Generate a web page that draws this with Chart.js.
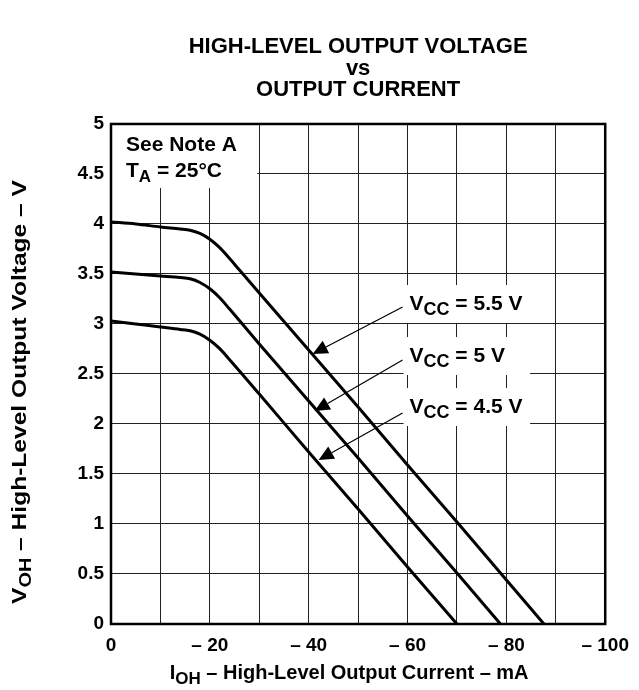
<!DOCTYPE html>
<html>
<head>
<meta charset="utf-8">
<script src="https://cdn.jsdelivr.net/npm/chart.js@4.4.1/dist/chart.umd.min.js"></script>
<style>
  html, body { margin: 0; padding: 0; background: #fff; }
  #wrap { width: 639px; height: 690px; }
</style>
</head>
<body>
<div id="wrap"><canvas id="vohChart" width="639" height="690"></canvas></div>
<script>
// I_OH in mA (sourcing, so negative) and V_OH in volts, one pair per supply
var ioh55 = [0, -5, -10, -14, -16, -18, -20, -22, -24, -26, -30, -40, -50, -60, -70, -80, -87.6];
var voh55 = [4.02, 4.00, 3.97, 3.95, 3.938, 3.906, 3.848, 3.763, 3.654, 3.539, 3.31, 2.74, 2.17, 1.59, 1.02, 0.44, 0];

var ioh50 = [0, -5, -10, -14, -16, -18, -20, -22, -24, -30, -40, -50, -60, -70, -78.8];
var voh50 = [3.52, 3.50, 3.48, 3.464, 3.452, 3.415, 3.352, 3.262, 3.149, 2.80, 2.23, 1.66, 1.08, 0.51, 0];

var ioh45 = [0, -5, -10, -14, -16, -18, -20, -22, -24, -30, -40, -50, -60, -70];
var voh45 = [3.03, 3.00, 2.97, 2.946, 2.932, 2.898, 2.838, 2.753, 2.643, 2.30, 1.72, 1.15, 0.57, 0];

var vccLabels = ['5.5 V', '5 V', '4.5 V'];
var xTickLabels = ['0', '', '\u2013 20', '', '\u2013 40', '', '\u2013 60', '', '\u2013 80', '', '\u2013 100'];
var yTickLabels = ['0', '0.5', '1', '1.5', '2', '2.5', '3', '3.5', '4', '4.5', '5'];
var titleLines = ['HIGH-LEVEL OUTPUT VOLTAGE', 'vs', 'OUTPUT CURRENT'];

var FONT = '"Liberation Sans", Arial, Helvetica, sans-serif';

function pts(xs, ys) {
    return xs.map(function(x, i){ return {x: x, y: ys[i]}; });
}

// text with subscripts: parts = [[text, size, dy], ...]
function drawRich(ctx, parts, x, y, align) {
    var w = 0;
    parts.forEach(function(p){
        ctx.font = 'bold ' + p[1] + 'px ' + FONT;
        w += ctx.measureText(p[0]).width;
    });
    var cx = align === 'center' ? x - w / 2 : x;
    parts.forEach(function(p){
        ctx.font = 'bold ' + p[1] + 'px ' + FONT;
        ctx.fillText(p[0], cx, y + (p[2] || 0));
        cx += ctx.measureText(p[0]).width;
    });
}

function arrow(ctx, x1, y1, x2, y2) {
    var ang = Math.atan2(y2 - y1, x2 - x1), len = 15, hw = 7;
    var bx = x2 - len * Math.cos(ang), by = y2 - len * Math.sin(ang);
    ctx.lineWidth = 1.2;
    ctx.beginPath();
    ctx.moveTo(x1, y1);
    ctx.lineTo(bx, by);
    ctx.stroke();
    ctx.beginPath();
    ctx.moveTo(x2, y2);
    ctx.lineTo(bx + hw * Math.sin(ang), by - hw * Math.cos(ang));
    ctx.lineTo(bx - hw * Math.sin(ang), by + hw * Math.cos(ang));
    ctx.closePath();
    ctx.fill();
}

var extras = {
    id: 'extras',
    afterDatasetsDraw: function(chart) {
        var ctx = chart.ctx, a = chart.chartArea;
        var xs = chart.scales.x, ys = chart.scales.y;
        ctx.save();
        ctx.textBaseline = 'alphabetic';
        ctx.textAlign = 'left';

        // note box in the corner
        ctx.fillStyle = '#fff';
        ctx.fillRect(a.left, a.top, xs.getPixelForValue(-29.6) - a.left, ys.getPixelForValue(4.36) - a.top);
        ctx.fillStyle = '#000';
        drawRich(ctx, [['See Note A', 21]], a.left + 15, a.top + 27);
        drawRich(ctx, [['T', 21], ['A', 17, 5], [' = 25\u00b0C', 21]], a.left + 15, a.top + 53);

        // supply labels with arrows
        var base = [3.14, 2.62, 2.11];
        var tails = [3.17, 2.64, 2.11];
        var tips = [[-40.8, 2.70], [-41.2, 2.13], [-42, 1.64]];
        var lx = xs.getPixelForValue(-60.4);
        var bx0 = xs.getPixelForValue(-59.2), bx1 = xs.getPixelForValue(-84.8);
        vccLabels.forEach(function(lbl, i){
            var by = ys.getPixelForValue(base[i]);
            ctx.fillStyle = '#fff';
            ctx.fillRect(bx0, by - 25, bx1 - bx0, 38);
            ctx.fillStyle = '#000';
            drawRich(ctx, [['V', 21], ['CC', 18, 5], [' = ' + lbl, 21]], lx, by);
            ctx.strokeStyle = '#000';
            arrow(ctx, xs.getPixelForValue(-59), ys.getPixelForValue(tails[i]),
                xs.getPixelForValue(tips[i][0]), ys.getPixelForValue(tips[i][1]));
        });

        // frame
        ctx.lineWidth = 2.5;
        ctx.strokeStyle = '#000';
        ctx.strokeRect(a.left, a.top, a.right - a.left, a.bottom - a.top);

        // axis titles
        ctx.fillStyle = '#000';
        drawRich(ctx, [['I', 20], ['OH', 17, 5], [' \u2013 High-Level Output Current \u2013 mA', 20]],
            (a.left + a.right) / 2 - 9, 679, 'center');
        ctx.translate(26, (a.top + a.bottom) / 2 + 18);
        ctx.rotate(-Math.PI / 2);
        ctx.scale(1.17, 1);
        drawRich(ctx, [['V', 21], ['OH', 17, 5], [' \u2013 High-Level Output Voltage \u2013 V', 21]], 0, 0, 'center');
        ctx.restore();
    }
};

var curveStyle = {borderColor: '#000', borderWidth: 3, pointRadius: 0, fill: false, cubicInterpolationMode: 'monotone'};

var vohChart = new Chart(document.getElementById('vohChart').getContext('2d'), {
    type: 'line',
    data: {
        datasets: [
            Object.assign({label: 'VCC = ' + vccLabels[0], data: pts(ioh55, voh55)}, curveStyle),
            Object.assign({label: 'VCC = ' + vccLabels[1], data: pts(ioh50, voh50)}, curveStyle),
            Object.assign({label: 'VCC = ' + vccLabels[2], data: pts(ioh45, voh45)}, curveStyle)
        ]
    },
    options: {
        responsive: false,
        animation: false,
        devicePixelRatio: 1,
        layout: {padding: {left: 0, right: 28, top: 0, bottom: 0}},
        plugins: {
            legend: {display: false},
            tooltip: {enabled: false},
            title: {
                display: true,
                text: titleLines,
                fullSize: false,
                color: '#000',
                font: {family: FONT, size: 22, weight: 'bold', lineHeight: 0.98},
                padding: {top: 36.2, bottom: 23.1}
            }
        },
        scales: {
            x: {
                type: 'linear',
                reverse: true,
                min: -100,
                max: 0,
                ticks: {
                    stepSize: 10,
                    autoSkip: false,
                    maxRotation: 0,
                    padding: 10,
                    color: '#000',
                    font: {family: FONT, size: 19, weight: 'bold'},
                    callback: function(v){ return xTickLabels[Math.round(-v / 10)]; }
                },
                grid: {color: '#222', lineWidth: 1, drawTicks: false},
                border: {display: false},
                afterFit: function(s){ s.height = 66; }
            },
            y: {
                min: 0,
                max: 5,
                ticks: {
                    stepSize: 0.5,
                    padding: 7,
                    color: '#000',
                    font: {family: FONT, size: 19, weight: 'bold'},
                    callback: function(v){ return yTickLabels[Math.round(v * 2)]; }
                },
                grid: {color: '#222', lineWidth: 1, drawTicks: false},
                border: {display: false},
                afterFit: function(s){ s.width = 111; }
            }
        }
    },
    plugins: [extras]
});
</script>
</body>
</html>
